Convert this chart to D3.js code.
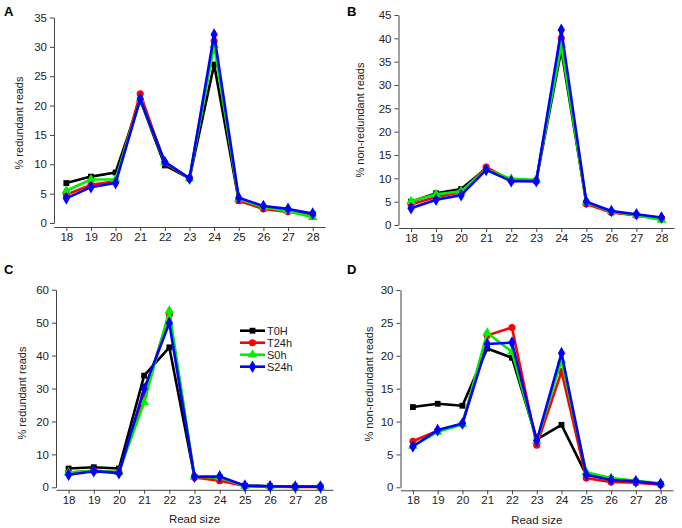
<!DOCTYPE html>
<html>
<head>
<meta charset="utf-8">
<script src="https://cdn.jsdelivr.net/npm/d3@7"></script>
<style>
body{margin:0;background:#fff;}
text{font-family:Arial,"Liberation Sans",sans-serif;}
</style>
</head>
<body>
<svg id="chart" width="682" height="528"></svg>
<script>
const readSizes = [18,19,20,21,22,23,24,25,26,27,28];
const seriesNames = ["T0H","T24h","S0h","S24h"];
const seriesColors = ["#000000","#ff0000","#00ee00","#0000ff"];

// Panel A: % redundant reads
const A_T0H  = [6.8,7.9,8.6,21.0,9.8,7.6,27.0,3.8,2.6,2.2,1.5];
const A_T24h = [4.8,6.5,7.1,22.0,10.2,7.6,31.0,3.8,2.4,1.9,1.4];
const A_S0h  = [5.5,7.4,7.4,21.1,10.3,7.6,30.3,4.1,2.7,2.0,1.0];
const A_S24h = [4.2,6.1,6.8,21.1,10.4,7.6,32.1,4.3,2.9,2.4,1.6];

// Panel B: % non-redundant reads
const B_T0H  = [5.0,6.8,7.7,12.1,9.6,9.5,37.5,4.8,2.8,2.1,1.3];
const B_T24h = [4.4,6.0,7.0,12.4,9.5,9.4,40.0,4.5,2.7,2.1,1.4];
const B_S0h  = [5.1,6.6,7.2,11.9,9.9,9.7,38.5,4.8,2.9,2.1,1.1];
const B_S24h = [3.6,5.4,6.4,11.8,9.4,9.4,41.8,5.0,3.0,2.3,1.6];

// Panel C: % redundant reads
const C_T0H  = [5.7,6.1,5.7,33.9,42.5,3.2,3.0,0.5,0.3,0.2,0.2];
const C_T24h = [4.5,5.0,4.6,28.0,52.4,3.0,2.0,0.4,0.2,0.1,0.1];
const C_S0h  = [4.5,5.0,4.6,25.8,53.6,3.2,3.0,0.4,0.3,0.2,0.2];
const C_S24h = [3.8,4.9,4.3,29.9,49.9,3.2,3.3,0.5,0.3,0.2,0.2];

// Panel D: % non-redundant reads
const D_T0H  = [12.2,12.7,12.4,21.1,19.7,7.3,9.5,1.9,1.3,0.9,0.5];
const D_T24h = [7.0,8.6,9.6,23.1,24.3,6.4,17.6,1.4,0.8,0.7,0.4];
const D_S0h  = [6.3,8.4,9.6,23.5,20.6,7.0,19.3,2.3,1.4,1.0,0.6];
const D_S24h = [6.2,8.7,9.7,21.8,22.0,7.1,20.4,1.9,1.1,0.9,0.5];

const yTicksA = [0,5,10,15,20,25,30,35];
const yTicksB = [0,5,10,15,20,25,30,35,40,45];
const yTicksC = [0,10,20,30,40,50,60];
const yTicksD = [0,5,10,15,20,25,30];

const svg = d3.select("#chart");

const symbols = [d3.symbolSquare, d3.symbolCircle, d3.symbolTriangle, d3.symbolDiamond];
const symSizes = [34, 40, 40, 46];

function panel(cfg) {
  const g = svg.append("g");
  const x = d3.scaleLinear().domain([17.5, 28.5]).range([cfg.x0, cfg.x1]);
  const y = d3.scaleLinear().domain([0, cfg.ymax]).range([cfg.y0, cfg.yTop]);

  const yAx = g.append("g").attr("transform", `translate(${cfg.x0},0)`)
    .call(d3.axisLeft(y).tickValues(cfg.yTicks).tickSize(4).tickPadding(3).tickSizeOuter(0));
  const xAx = g.append("g").attr("transform", `translate(0,${cfg.y0 + cfg.off})`)
    .call(d3.axisBottom(x).tickValues(readSizes).tickSize(4).tickPadding(2).tickSizeOuter(0));
  [yAx, xAx].forEach(a => {
    a.selectAll("path").attr("stroke", "#444").attr("stroke-width", 1);
    a.selectAll("line").attr("stroke", "#444");
    a.selectAll("text").attr("fill", "#222").style("font-size", "11.5px");
  });

  g.append("text")
    .attr("transform", `translate(${cfg.ylx},${cfg.yly}) rotate(-90)`)
    .attr("text-anchor", "middle").attr("dy", "0.35em")
    .style("font-size", "11px").attr("fill", "#222")
    .text(cfg.ylabel);

  if (cfg.xlabel) {
    g.append("text").attr("x", (cfg.x0 + cfg.x1) / 2).attr("y", cfg.xly)
      .attr("text-anchor", "middle").style("font-size", "11.5px").attr("fill", "#222")
      .text("Read size");
  }

  g.append("text").attr("x", cfg.lx).attr("y", cfg.ly)
    .style("font-size", "13px").style("font-weight", "bold").attr("fill", "#000")
    .text(cfg.letter);

  const line = d3.line().x((d, i) => x(readSizes[i])).y(d => y(d));
  cfg.series.forEach((vals, si) => {
    g.append("path").datum(vals).attr("d", line)
      .attr("fill", "none").attr("stroke", seriesColors[si]).attr("stroke-width", 2.6)
      .attr("stroke-linejoin", "round");
    g.selectAll(null).data(vals).enter().append("path")
      .attr("transform", (d, i) => `translate(${x(readSizes[i])},${y(d)})`)
      .attr("d", d3.symbol().type(symbols[si]).size(symSizes[si]))
      .attr("fill", seriesColors[si]);
  });
}

panel({letter:"A", lx:4, ly:16, x0:54, x1:325, y0:223, yTop:17.5, ymax:35, off:4,
  yTicks:yTicksA, ylabel:"% redundant reads", ylx:19, yly:123,
  series:[A_T0H,A_T24h,A_S0h,A_S24h]});
panel({letter:"B", lx:347, ly:16, x0:398.5, x1:674, y0:225, yTop:15, ymax:45, off:3,
  yTicks:yTicksB, ylabel:"% non-redundant reads", ylx:360, yly:120,
  series:[B_T0H,B_T24h,B_S0h,B_S24h]});
panel({letter:"C", lx:4, ly:274, x0:56, x1:333, y0:487.3, yTop:289.7, ymax:60, off:2.5,
  yTicks:yTicksC, ylabel:"% redundant reads", ylx:22, yly:393, xlabel:true, xly:523,
  series:[C_T0H,C_T24h,C_S0h,C_S24h]});
panel({letter:"D", lx:347, ly:274, x0:400.5, x1:673, y0:487.3, yTop:290, ymax:30, off:3,
  yTicks:yTicksD, ylabel:"% non-redundant reads", ylx:369, yly:384, xlabel:true, xly:524,
  series:[D_T0H,D_T24h,D_S0h,D_S24h]});

const leg = svg.append("g");
seriesNames.forEach((name, i) => {
  const yy = 330.7 + i * 12;
  leg.append("line").attr("x1", 240).attr("x2", 265).attr("y1", yy).attr("y2", yy)
    .attr("stroke", seriesColors[i]).attr("stroke-width", 2.6);
  leg.append("path").attr("transform", `translate(252.5,${yy})`)
    .attr("d", d3.symbol().type(symbols[i]).size(symSizes[i]))
    .attr("fill", seriesColors[i]);
  leg.append("text").attr("x", 267).attr("y", yy).attr("dy", "0.35em")
    .style("font-size", "11px").attr("fill", "#222").text(name);
});
</script>
</body>
</html>
